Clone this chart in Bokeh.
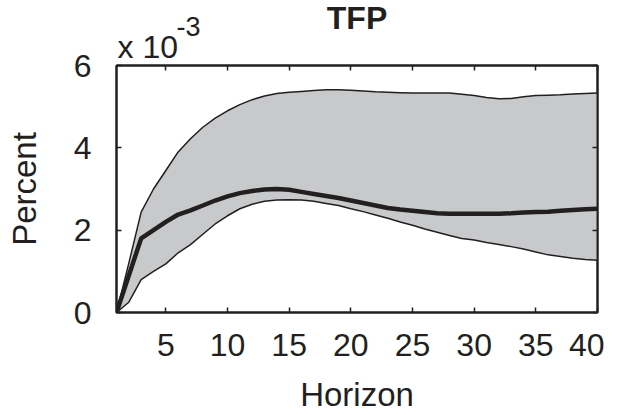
from bokeh.plotting import figure
from bokeh.models import (Range1d, LinearAxis, FixedTicker, ColumnDataSource,
                          CustomJSTickFormatter, Title)
from bokeh.embed import file_html
from bokeh.resources import INLINE

# Horizon (periods) and impulse response of TFP, in units of 10^-3 percent
horizon = list(range(1, 41))
median = [0.0, 0.9, 1.8, 2.0, 2.2, 2.38, 2.48, 2.6, 2.72, 2.82,
          2.9, 2.95, 2.99, 3.0, 2.98, 2.93, 2.88, 2.83, 2.78, 2.72,
          2.66, 2.6, 2.54, 2.5, 2.47, 2.44, 2.41, 2.4, 2.4, 2.4,
          2.4, 2.4, 2.41, 2.43, 2.44, 2.45, 2.47, 2.49, 2.51, 2.52]
upper = [0.0, 1.2, 2.44, 3.0, 3.45, 3.9, 4.22, 4.5, 4.72, 4.9,
         5.05, 5.17, 5.26, 5.32, 5.35, 5.37, 5.39, 5.41, 5.41, 5.40,
         5.38, 5.36, 5.35, 5.34, 5.33, 5.33, 5.33, 5.33, 5.30, 5.27,
         5.22, 5.19, 5.20, 5.24, 5.27, 5.28, 5.29, 5.31, 5.32, 5.33]
lower = [0.0, 0.25, 0.8, 1.0, 1.18, 1.45, 1.65, 1.9, 2.15, 2.35,
         2.52, 2.63, 2.7, 2.73, 2.74, 2.73, 2.7, 2.65, 2.6, 2.52,
         2.45, 2.37, 2.29, 2.2, 2.12, 2.03, 1.95, 1.87, 1.8, 1.76,
         1.7, 1.65, 1.6, 1.54, 1.47, 1.4, 1.36, 1.32, 1.29, 1.27]
x_ticks = [5, 10, 15, 20, 25, 30, 35, 40]
y_ticks = [0, 2, 4, 6]
title_text = "TFP"
scale_base = "x 10"
scale_exp = "-3"

FONT = "Liberation Sans"
INK = "#231f20"

src = ColumnDataSource(dict(h=horizon, m=median, u=upper, l=lower))

p = figure(width=604, height=415, output_backend="svg", toolbar_location=None,
           x_range=Range1d(horizon[0], horizon[-1]), y_range=Range1d(y_ticks[0], y_ticks[-1]),
           min_border_left=116, min_border_right=7,
           min_border_top=65, min_border_bottom=102)
p.background_fill_color = "white"
p.border_fill_color = "white"
p.outline_line_color = INK
p.outline_line_width = 2
p.xgrid.visible = False
p.ygrid.visible = False

p.varea(x="h", y1="l", y2="u", source=src, fill_color="#c8c9cb")
p.line(x="h", y="u", source=src, line_color=INK, line_width=1.5)
p.line(x="h", y="l", source=src, line_color=INK, line_width=1.5)
p.line(x="h", y="m", source=src, line_color=INK, line_width=4.5)

def style(ax, ticks):
    ax.ticker = FixedTicker(ticks=ticks)
    ax.axis_line_color = INK
    ax.axis_line_width = 2
    ax.major_tick_line_color = INK
    ax.major_tick_line_width = 1.5
    ax.major_tick_in = 5
    ax.major_tick_out = 0
    ax.minor_tick_line_color = None
    ax.major_label_text_font = FONT
    ax.major_label_text_color = INK
    ax.major_label_text_font_size = "32px"
    ax.axis_label_text_font = FONT
    ax.axis_label_text_font_size = "33px"
    ax.axis_label_text_font_style = "normal"
    ax.axis_label_text_color = INK

style(p.xaxis[0], x_ticks)
style(p.yaxis[0], y_ticks)
p.xaxis[0].major_label_standoff = 21
p.yaxis[0].major_label_standoff = 25
p.xaxis[0].axis_label = "Horizon"
p.yaxis[0].axis_label = "Percent"
p.xaxis[0].axis_label_standoff = 17
p.yaxis[0].axis_label_standoff = 28

blank = CustomJSTickFormatter(code="return ''")
top_ax = LinearAxis(formatter=blank)
style(top_ax, x_ticks)
top_ax.major_label_standoff = 0
top_ax.major_label_text_font_size = "1px"
p.add_layout(top_ax, "above")
right_ax = LinearAxis(formatter=blank)
style(right_ax, y_ticks)
right_ax.major_label_standoff = 0
right_ax.major_label_text_font_size = "1px"
p.add_layout(right_ax, "right")

# scale factor note "x 10^-3", left-aligned just above the frame
sci = Title(text=scale_base, align="left", offset=1, standoff=2,
            text_font=FONT, text_font_size="32px", text_font_style="normal",
            text_color=INK)
p.add_layout(sci, "above")
sup = Title(text=scale_exp, align="left", offset=60, standoff=-20,
            text_font=FONT, text_font_size="27px", text_font_style="normal",
            text_color=INK)
p.add_layout(sup, "above")

p.title.text = title_text
p.title.text_font = FONT
p.title.text_font_size = "32px"
p.title.text_font_style = "bold"
p.title.text_color = INK
p.title.align = "center"
p.title.standoff = -23

open("out.html", "w").write(file_html(p, INLINE))
